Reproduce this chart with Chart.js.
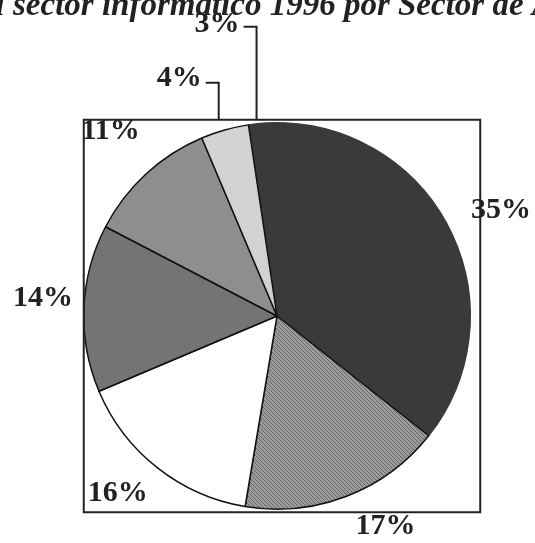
<!DOCTYPE html>
<html>
<head>
<meta charset="utf-8">
<script src="https://cdn.jsdelivr.net/npm/chart.js@4.4.0/dist/chart.umd.min.js"></script>
<style>
  body { margin: 0; background: #fff; }
  canvas { display: block; }
</style>
</head>
<body>
<canvas id="pie" width="535" height="543"></canvas>
<script>
// slices in drawing order, clockwise from the top
const sectors = ['Sector A', 'Sector B', 'Sector C', 'Sector D', 'Sector E', 'Sector F', 'Sector G'];
const shares = [3, 35, 17, 16, 14, 11, 4];
const leaderLabels = [true, false, false, false, false, false, true];

const titleText = 'Facturación del sector informático 1996 por Sector de Actividad';
const titlePrefix = 'Facturación del ';

// fine hatch for the 17% slice
function hatch() {
  const c = document.createElement('canvas');
  c.width = 4; c.height = 4;
  const g = c.getContext('2d');
  g.fillStyle = '#9c9c9c';
  g.fillRect(0, 0, 4, 4);
  g.fillStyle = '#666';
  for (let i = 0; i < 4; i++) g.fillRect(i, i, 1, 1);
  return g.createPattern(c, 'repeat');
}

const fills = ['#3a3a3a', '#3a3a3a', hatch(), '#ffffff', '#747474', '#8e8e8e', '#d2d2d2'];
// the two dark slices read as one, so no line between them
const edges = ['#3a3a3a', '#3a3a3a', '#111', '#111', '#111', '#111', '#111'];

const serif = "'Times New Roman', 'Liberation Serif', Times, serif";

const decor = {
  id: 'decor',
  afterDraw(chart) {
    const ctx = chart.ctx;
    const arcs = chart.getDatasetMeta(0).data;
    const cx = arcs[0].x, cy = arcs[0].y, r = arcs[0].outerRadius;
    ctx.save();

    // frame around the pie
    ctx.strokeStyle = '#222';
    ctx.lineWidth = 2;
    ctx.strokeRect(cx - r, cy - r - 3, 2 * r + 10, 2 * r + 6);

    // percentage labels
    ctx.fillStyle = '#222';
    ctx.font = 'bold 30px ' + serif;
    ctx.textBaseline = 'middle';
    const nudge = [0, 0.3, -5.8, 3, 1.1, 0, 0];
    const reach = [1, 1.273, 1.242, 1.248, 1.213, 1.27, 1];
    let level = 0;
    for (let i = arcs.length - 1; i >= 0; i--) {
      const a = arcs[i];
      const mid = (a.startAngle + a.endAngle) / 2 + nudge[i] * Math.PI / 180;
      const txt = shares[i] + '%';
      if (!leaderLabels[i]) {
        const lx = cx + Math.cos(mid) * r * reach[i];
        const ly = cy + Math.sin(mid) * r * reach[i] - 4;
        ctx.textAlign = 'center';
        ctx.fillText(txt, lx, ly);
      } else {
        // leader: up from the frame, then left to the text
        const top = cy - r - 3;
        const vx = cx + Math.cos(mid) * r - 6 - level * 4;
        const hy = top - 37 - level * 56;
        ctx.strokeStyle = '#222';
        ctx.lineWidth = 2;
        ctx.beginPath();
        ctx.moveTo(vx, top);
        ctx.lineTo(vx, hy);
        ctx.lineTo(vx - 13, hy);
        ctx.stroke();
        ctx.textAlign = 'right';
        ctx.fillText(txt, vx - 17, hy - 5 + level * 2);
        level++;
      }
    }

    // title, cut by the top edge as in the scan
    ctx.font = 'italic bold 33px ' + serif;
    ctx.textAlign = 'left';
    ctx.textBaseline = 'alphabetic';
    const x0 = 13 - ctx.measureText(titlePrefix).width;
    ctx.fillText(titleText, x0, 15);
    ctx.restore();
  }
};

new Chart(document.getElementById('pie'), {
  type: 'pie',
  data: {
    labels: sectors,
    datasets: [{
      data: shares,
      backgroundColor: fills,
      borderColor: edges,
      borderWidth: 1.5
    }]
  },
  options: {
    responsive: false,
    animation: false,
    rotation: -8.5,
    layout: { padding: { left: 83, right: 64, top: 122, bottom: 33 } },
    plugins: {
      legend: { display: false },
      tooltip: { enabled: false }
    }
  },
  plugins: [decor]
});
</script>
</body>
</html>
